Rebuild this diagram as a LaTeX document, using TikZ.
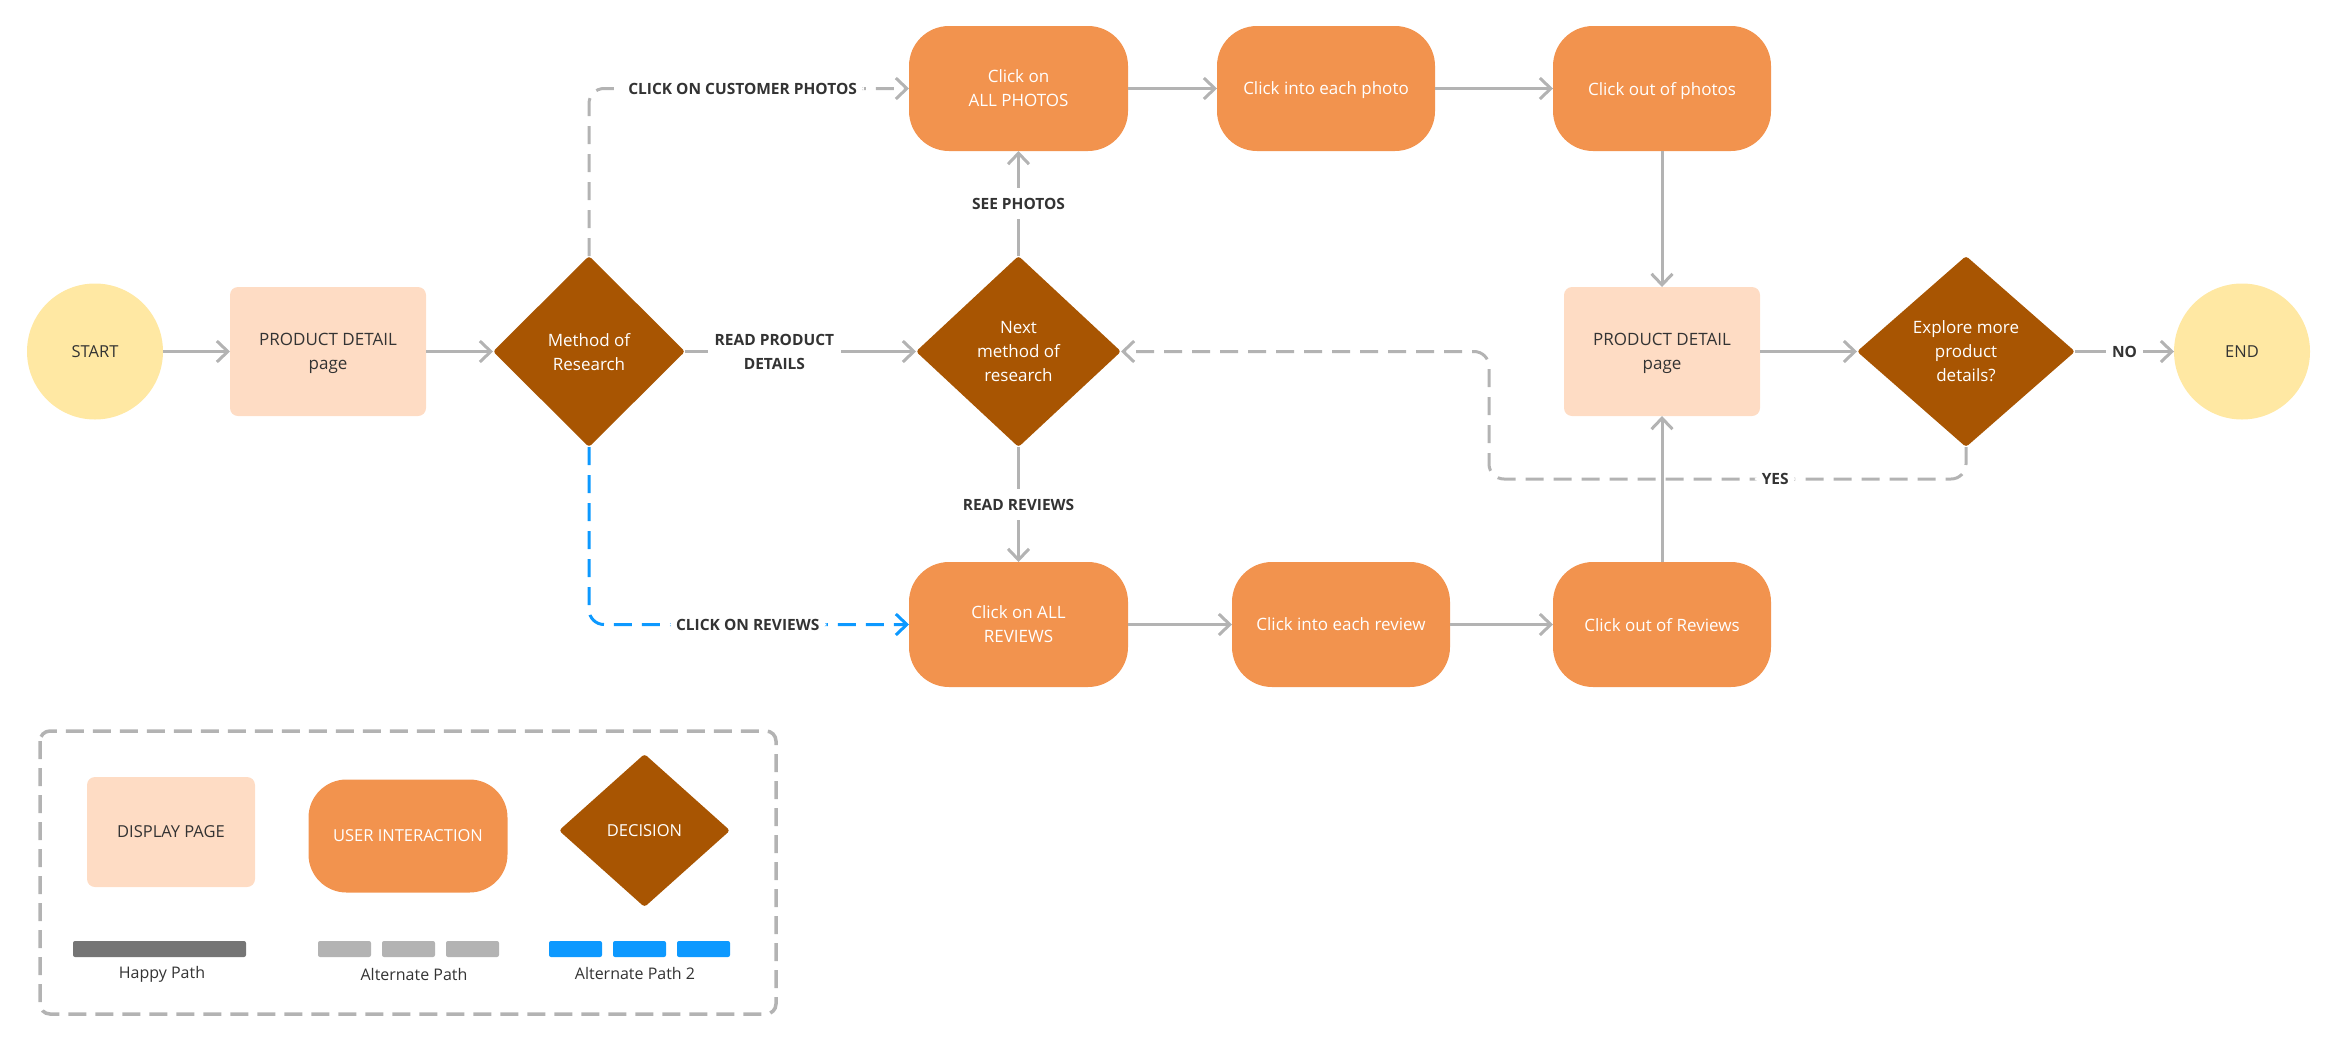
\documentclass[tikz,border=0pt]{standalone}
\usepackage{fontspec}
\setmainfont{Open Sans}
\usetikzlibrary{shapes.geometric, arrows.meta, positioning}

\definecolor{termyellow}{HTML}{FFE8A3}
\definecolor{pagepeach}{HTML}{FEDCC4}
\definecolor{actorange}{HTML}{F2934E}
\definecolor{choicebrown}{HTML}{A85502}
\definecolor{linegray}{HTML}{B3B3B3}
\definecolor{happygray}{HTML}{757575}
\definecolor{altblue}{HTML}{0D99FF}
\definecolor{textdark}{HTML}{333333}

\tikzset{
  boxfont/.style={font=\fontsize{17}{24}\selectfont, text depth=0pt},
  legendfont/.style={font=\fontsize{16.5}{24}\selectfont},
  terminal/.style={circle, fill=termyellow, minimum size=136pt, inner sep=0pt, outer sep=0pt, text=textdark, font=\fontsize{16.5}{24}\selectfont},
  displaypage/.style={rectangle, rounded corners=8pt, fill=pagepeach, minimum width=196pt, minimum height=129pt, inner sep=0pt, outer sep=0pt, align=center, text=textdark, boxfont},
  interaction/.style={rectangle, rounded corners=40pt, fill=actorange, minimum width=218pt, minimum height=125pt, inner sep=0pt, outer sep=0pt, align=center, text=white, boxfont},
  decision/.style={diamond, rounded corners=3pt, fill=choicebrown, minimum height=191pt, inner sep=0pt, outer sep=0pt, align=center, text=white, boxfont},
  flow/.style={draw=linegray, line width=3pt, -{Straight Barb[length=11pt,width=21pt]}},
  altflow/.style={flow, dash pattern=on 18pt off 10pt, rounded corners=15pt},
  altflowblue/.style={altflow, draw=altblue},
  pathlabel/.style={fill=white, text=textdark, align=center, inner xsep=7pt, inner ysep=4pt, font=\bfseries\fontsize{15.5}{24}\selectfont},
  legendtext/.style={text=textdark, font=\fontsize{16}{20}\selectfont},
}

\begin{document}
\begin{tikzpicture}[x=1pt, y=1pt]
\useasboundingbox (0,0) rectangle (2339,-1039);

\node[terminal] (start) at (95,-351.5) {START};
\node[displaypage, right=67pt of start] (pdpage) {PRODUCT DETAIL\\page};
\node[decision, minimum width=192pt, right=67pt of pdpage] (method) {Method of\\Research};
\node[decision, minimum width=205pt, right=231pt of method] (nextmethod) {Next\\method of\\research};

\node[interaction, minimum width=219pt, above=105pt of nextmethod] (allphotos) {Click on\\ALL PHOTOS};
\node[interaction, right=89pt of allphotos] (eachphoto) {Click into each photo};
\node[interaction, right=118pt of eachphoto] (outphotos) {Click out of photos};

\node[interaction, minimum width=219pt, below=115pt of nextmethod] (allreviews) {Click on ALL\\REVIEWS};
\node[interaction, right=104pt of allreviews] (eachreview) {Click into each review};
\node[interaction, right=103pt of eachreview] (outreviews) {Click out of Reviews};

\node[displaypage, below=136pt of outphotos] (pdpagetwo) {PRODUCT DETAIL\\page};
\node[decision, minimum width=218pt, right=97pt of pdpagetwo] (explore) {Explore more\\product\\details?};
\node[terminal, right=99pt of explore] (finish) {END};
\coordinate (yesback) at (1489,-479);

\draw[flow] (start) -- (pdpage);
\draw[flow] (pdpage) -- (method);
\draw[flow] (method) -- node[pathlabel, pos=0.387] {READ PRODUCT\\DETAILS} (nextmethod);
\draw[altflow] (method.north) |- node[pathlabel, pos=0.74] {CLICK ON CUSTOMER PHOTOS} (allphotos.west);
\draw[altflowblue] (method.south) |- node[pathlabel, pos=0.748] {CLICK ON REVIEWS} (allreviews.west);
\draw[flow] (nextmethod) -- node[pathlabel, inner ysep=10pt] {SEE PHOTOS} (allphotos);
\draw[flow] (nextmethod) -- node[pathlabel, inner ysep=10pt] {READ REVIEWS} (allreviews);

\draw[flow] (allphotos) -- (eachphoto);
\draw[flow] (eachphoto) -- (outphotos);
\draw[flow] (outphotos) -- (pdpagetwo);
\draw[flow] (allreviews) -- (eachreview);
\draw[flow] (eachreview) -- (outreviews);
\draw[flow] (outreviews) -- (pdpagetwo);

\draw[flow] (pdpagetwo) -- (explore);
\draw[flow] (explore) -- node[pathlabel, inner xsep=6pt] {NO} (finish);
\draw[altflow] (explore.south) |- node[pathlabel, pos=0.70] {YES} (yesback) |- (nextmethod.east);

\draw[linegray, line width=3.5pt, dash pattern=on 18pt off 9pt, rounded corners=10pt] (40,-731) rectangle (776,-1014);
\node[displaypage, legendfont, minimum width=168pt, minimum height=110pt] (legpage) at (171,-832) {DISPLAY PAGE};
\node[interaction, legendfont, minimum width=199pt, minimum height=113pt, rounded corners=38pt] (legaction) at (408,-836) {USER INTERACTION};
\node[decision, legendfont, minimum width=171pt, minimum height=153pt] (legchoice) at (644.5,-830.5) {DECISION};

\fill[happygray, rounded corners=2pt] (73,-941) rectangle (246,-957);
\foreach \x in {318,382,446}
  \fill[linegray, rounded corners=2pt] (\x,-941) rectangle ++(53,-16);
\foreach \x in {549,613,677}
  \fill[altblue, rounded corners=2pt] (\x,-941) rectangle ++(53,-16);
\node[legendtext] (happylbl) at (162,-974) {Happy Path};
\node[legendtext] (altlbl) at (414,-974) {Alternate Path};
\node[legendtext] (alttwolbl) at (635,-973) {Alternate Path 2};
\end{tikzpicture}
\end{document}
